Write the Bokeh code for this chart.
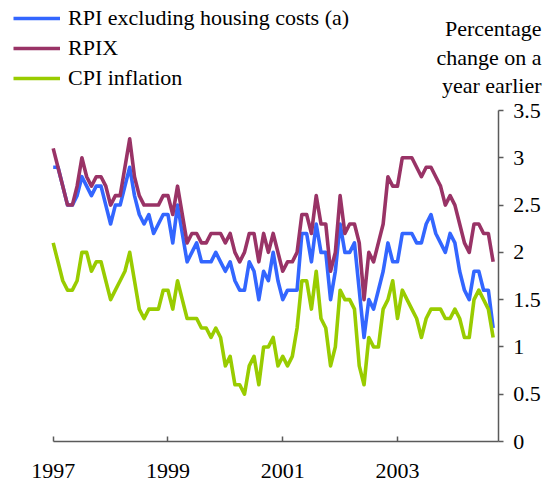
from bokeh.plotting import figure
from bokeh.models import (Range1d, FixedTicker, Legend, LegendItem, Label,
                          CustomJSTickFormatter, ColumnDataSource, LinearAxis)
from bokeh.embed import file_html
from bokeh.resources import INLINE

# ---------------- data (monthly, Jan 1997 onwards, % change on a year earlier)
start_year = 1997
rpi_ex_housing = [
    2.9, 2.9, 2.7, 2.5, 2.5, 2.6, 2.8, 2.7, 2.6, 2.7, 2.7, 2.5,   # 1997
    2.3, 2.5, 2.5, 2.7, 2.9, 2.6, 2.4, 2.3, 2.4, 2.2, 2.3, 2.4,   # 1998
    2.4, 2.1, 2.5, 2.2, 1.9, 2.0, 2.1, 1.9, 1.9, 1.9, 2.0, 1.9,   # 1999
    1.8, 1.9, 1.7, 1.6, 1.6, 1.9, 1.8, 1.5, 1.8, 1.7, 2.0, 1.7,   # 2000
    1.5, 1.6, 1.6, 1.6, 2.2, 2.2, 1.9, 2.3, 2.0, 2.0, 1.5, 1.8,   # 2001
    2.3, 2.0, 2.0, 2.1, 1.6, 1.1, 1.5, 1.4, 1.6, 1.8, 2.1, 1.9,   # 2002
    1.9, 2.2, 2.2, 2.2, 2.1, 2.1, 2.3, 2.4, 2.2, 2.1, 2.0, 2.2,   # 2003
    2.1, 1.8, 1.6, 1.5, 1.8, 1.8, 1.6, 1.6, 1.2,                  # 2004
]
rpix = [
    3.1, 2.9, 2.7, 2.5, 2.5, 2.7, 3.0, 2.8, 2.7, 2.8, 2.8, 2.7,
    2.5, 2.6, 2.6, 2.9, 3.2, 2.8, 2.6, 2.5, 2.5, 2.5, 2.5, 2.6,
    2.6, 2.4, 2.7, 2.4, 2.1, 2.2, 2.2, 2.1, 2.1, 2.2, 2.2, 2.2,
    2.1, 2.2, 2.0, 1.9, 2.0, 2.2, 2.2, 1.9, 2.2, 2.0, 2.2, 2.0,
    1.8, 1.9, 1.9, 2.0, 2.4, 2.4, 2.2, 2.6, 2.3, 2.3, 1.8, 2.0,
    2.6, 2.2, 2.3, 2.3, 2.1, 1.5, 2.0, 1.9, 2.1, 2.3, 2.8, 2.7,
    2.7, 3.0, 3.0, 3.0, 2.9, 2.8, 2.9, 2.9, 2.8, 2.7, 2.5, 2.6,
    2.5, 2.3, 2.1, 2.0, 2.3, 2.3, 2.2, 2.2, 1.9,
]
cpi = [
    2.1, 1.9, 1.7, 1.6, 1.6, 1.7, 2.0, 2.0, 1.8, 1.9, 1.9, 1.7,
    1.5, 1.6, 1.7, 1.8, 2.0, 1.7, 1.4, 1.3, 1.4, 1.4, 1.4, 1.6,
    1.6, 1.4, 1.7, 1.5, 1.3, 1.3, 1.3, 1.2, 1.2, 1.1, 1.2, 1.1,
    0.8, 0.9, 0.6, 0.6, 0.5, 0.8, 0.9, 0.6, 1.0, 1.0, 1.1, 0.8,
    0.9, 0.8, 0.9, 1.2, 1.7, 1.7, 1.4, 1.8, 1.3, 1.2, 0.8, 1.0,
    1.6, 1.5, 1.5, 1.4, 0.8, 0.6, 1.1, 1.0, 1.0, 1.4, 1.5, 1.7,
    1.3, 1.6, 1.5, 1.4, 1.3, 1.1, 1.3, 1.4, 1.4, 1.4, 1.3, 1.3,
    1.4, 1.3, 1.1, 1.1, 1.5, 1.6, 1.5, 1.4, 1.1,
]
series_names = ["RPI excluding housing costs (a)", "RPIX", "CPI inflation"]
series_colors = ["#3366FF", "#993366", "#99CC00"]
x_tick_labels = ["1997", "1999", "2001", "2003"]
y_ticks = [0, 0.5, 1, 1.5, 2, 2.5, 3, 3.5]
unit_text = ["Percentage", "change on a", "year earlier"]

# ---------------- layout constants (pixels)
W, H = 545, 486
ZERO_PX = 441               # pixel row of value 0
Y_TOP_PX = 110              # pixel row of value 3.5
X0_PX = 52.7                # pixel column of first month
PX_PER_MONTH = 4.782
AXIS_END_PX = 497.7         # pixel column of the right axis
LEGEND_BOTTOM_PX = 91
UNIT_BASELINES_PX = [28.3, 56.7, 85.0]

px_per_unit = (ZERO_PX - Y_TOP_PX) / y_ticks[-1]
y_min = -(H - ZERO_PX) / px_per_unit
y_max = ZERO_PX / px_per_unit
x_start = -X0_PX / PX_PER_MONTH
x_end = (W - X0_PX) / PX_PER_MONTH
x_axis_end = (AXIS_END_PX - X0_PX) / PX_PER_MONTH

FONT = "Liberation Serif"
FS = "22px"
AXIS_COLOR = "#5a5a5a"

months = list(range(len(rpix)))
src = ColumnDataSource(dict(m=months, a=rpi_ex_housing, b=rpix, c=cpi))

p = figure(width=W, height=H, output_backend="svg", toolbar_location=None,
           x_range=Range1d(x_start, x_end), y_range=Range1d(y_min, y_max),
           x_axis_location=None, y_axis_location=None,
           min_border_left=0, min_border_right=0,
           min_border_top=0, min_border_bottom=0)
p.grid.visible = False
p.outline_line_color = None
p.background_fill_color = "white"
p.border_fill_color = "white"

renderers = []
for col, color in zip(["a", "b", "c"], series_colors):
    r = p.line("m", col, source=src, line_color=color, line_width=3.6,
               line_join="round")
    renderers.append(r)

# x axis, drawn at value 0
xt = [(int(l) - start_year) * 12 for l in x_tick_labels]
xax = LinearAxis(fixed_location=0, bounds=(0, x_axis_end),
                 ticker=FixedTicker(ticks=xt),
                 major_label_overrides={t: l for t, l in zip(xt, x_tick_labels)},
                 major_tick_in=5, major_tick_out=0, major_label_standoff=22,
                 minor_tick_line_color=None)
p.add_layout(xax, "below")

# y axis, drawn at the right end of the x axis
yax = LinearAxis(fixed_location=x_axis_end, bounds=(0, y_ticks[-1]),
                 ticker=FixedTicker(ticks=y_ticks),
                 formatter=CustomJSTickFormatter(code="return tick.toString()"),
                 major_tick_in=0, major_tick_out=5, major_label_standoff=10,
                 minor_tick_line_color=None)
p.add_layout(yax, "right")

for ax in (xax, yax):
    ax.axis_line_color = AXIS_COLOR
    ax.axis_line_width = 1.5
    ax.major_tick_line_color = AXIS_COLOR
    ax.major_tick_line_width = 1.5
    ax.major_label_text_font = FONT
    ax.major_label_text_font_size = FS
    ax.major_label_text_color = "black"

# legend
legend = Legend(
    items=[LegendItem(label=n, renderers=[r]) for n, r in zip(series_names, renderers)],
    location=(13, H - LEGEND_BOTTOM_PX), orientation="vertical",
    padding=0, margin=0, spacing=4,
    glyph_width=47, glyph_height=24, label_height=24, label_standoff=8,
    border_line_alpha=0, background_fill_alpha=0,
    label_text_font=FONT, label_text_font_size=FS, label_text_color="black",
)
p.add_layout(legend)

# unit text, top right (alphabetic baselines)
for t, b in zip(unit_text, UNIT_BASELINES_PX):
    p.add_layout(Label(x=541, y=H - b, x_units="screen", y_units="screen",
                       text=t, text_align="right", text_baseline="alphabetic",
                       text_font=FONT, text_font_size=FS, text_color="black"))

open("out.html", "w").write(file_html(p, INLINE))
